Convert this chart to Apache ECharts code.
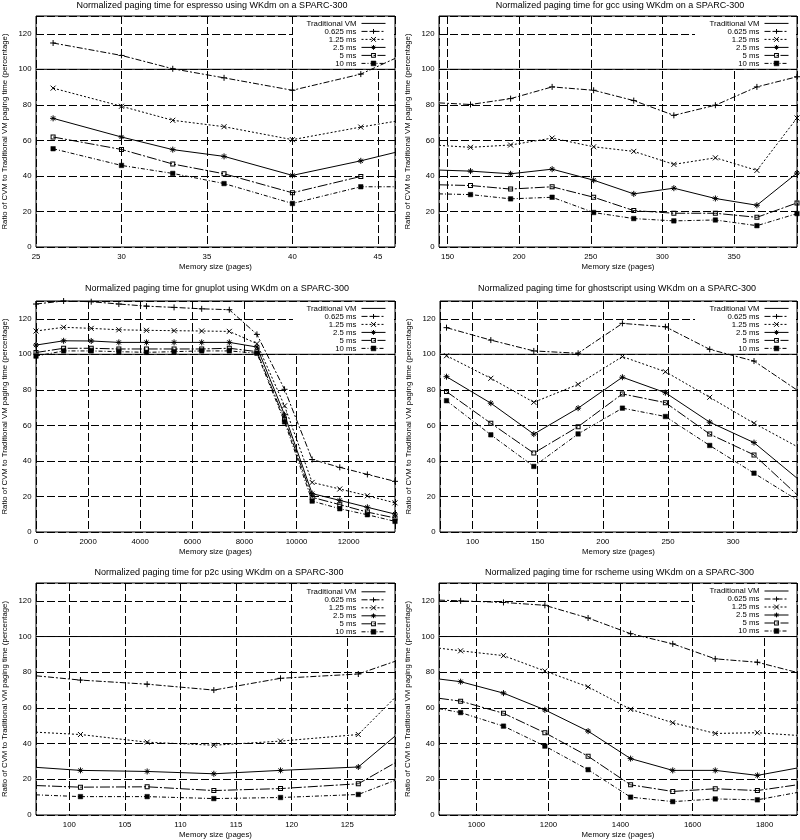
<!DOCTYPE html>
<html><head><meta charset="utf-8">
<script src="https://cdn.jsdelivr.net/npm/echarts@6/dist/echarts.min.js"></script>
<style>html,body{margin:0;padding:0;background:#fff}#c{width:800px;height:840px}</style>
</head><body><div id="c"></div>
<script>
// ---------------- DATA ----------------
const seriesNames = ['Traditional VM', '0.625 ms', '1.25 ms', '2.5 ms', '5 ms', '10 ms'];
const traditionalLevel = 100;
const yTicks = [0, 20, 40, 60, 80, 100, 120];

// espresso
const espressoX    = [26, 30, 33, 36, 40, 44, 46];
const espresso0625 = [114.8, 107.8, 100.3, 95.2, 88.2, 97.3, 106.1];
const espresso125  = [89.4, 79.2, 71.3, 67.7, 60.4, 67.5, 70.7];
const espresso25   = [72.4, 61.9, 54.8, 51.0, 40.3, 48.5, 53.2];
const espresso5    = [61.9, 54.9, 46.7, 41.2, 30.5, 39.7, null];
const espresso10   = [55.3, 45.9, 41.4, 35.7, 24.5, 33.9, 33.9];

// gcc
const gccX    = [144, 166, 194, 223, 252, 280, 308, 337, 366, 394];
const gcc0625 = [81.1, 80.2, 83.5, 90.1, 88.2, 82.4, 74.1, 79.8, 90.1, 95.8];
const gcc125  = [57.2, 56.1, 57.4, 61.3, 56.4, 53.8, 46.5, 50.2, 43.1, 72.6];
const gcc25   = [43.3, 42.7, 41.2, 43.8, 37.6, 29.9, 33.1, 27.3, 23.5, 41.6];
const gcc5    = [35.0, 34.6, 32.6, 33.9, 28.0, 20.5, 19.0, 19.0, 16.7, 24.8];
const gcc10   = [29.9, 29.5, 27.1, 28.0, 19.4, 16.0, 14.7, 15.2, 12.0, 18.8];

// gnuplot
const gnuplotX    = [0, 1060, 2120, 3180, 4240, 5300, 6360, 7420, 8480, 9540, 10600, 11660, 12720, 13780];
const gnuplot0625 = [128.3, 130.0, 129.6, 128.3, 127.1, 126.4, 125.6, 125.1, 111.2, 80.3, 40.8, 36.4, 32.4, 28.5];
const gnuplot125  = [113.1, 115.2, 114.6, 113.8, 113.5, 113.3, 113.1, 112.9, 106.0, 71.0, 27.9, 24.2, 20.4, 16.4];
const gnuplot25   = [105.2, 107.6, 107.5, 106.7, 106.7, 106.7, 106.7, 106.7, 104.1, 66.0, 21.6, 17.8, 13.9, 10.1];
const gnuplot5    = [101.0, 103.4, 103.4, 103.0, 103.0, 103.0, 103.0, 103.4, 101.5, 63.5, 19.5, 15.4, 11.2, 7.9];
const gnuplot10   = [99.0, 101.9, 101.9, 101.5, 101.1, 101.5, 101.9, 101.9, 100.6, 62.0, 17.4, 13.1, 9.7, 6.0];

// ghostscript
const ghostX    = [80, 114, 147, 181, 215, 248, 282, 316, 349];
const ghost0625 = [115.0, 108.0, 101.9, 100.6, 117.4, 115.5, 102.8, 96.2, 79.9];
const ghost125  = [99.2, 86.5, 73.0, 83.1, 98.7, 90.2, 75.8, 61.2, 48.1];
const ghost25   = [87.4, 72.5, 55.1, 69.7, 87.1, 78.4, 61.8, 50.3, 30.3];
const ghost5    = [79.0, 61.2, 44.4, 59.3, 77.7, 72.8, 55.1, 43.4, 21.0];
const ghost10   = [73.9, 54.7, 36.9, 55.2, 69.7, 65.0, 48.7, 33.1, 18.1];

// p2c
const p2cX    = [97, 101, 107, 113, 119, 126, 129.3];
const p2c0625 = [78.0, 75.6, 73.3, 70.0, 76.6, 79.0, 86.1];
const p2c125  = [46.4, 45.1, 40.8, 39.1, 41.4, 45.1, 65.8];
const p2c25   = [26.7, 25.0, 24.4, 23.1, 25.0, 26.9, 44.2];
const p2c5    = [16.5, 15.6, 15.8, 13.7, 14.8, 17.5, 29.2];
const p2c10   = [11.3, 10.3, 10.3, 9.2, 9.8, 11.5, 19.4];

// rscheme
const schemeX    = [896, 956, 1075, 1190, 1310, 1428, 1545, 1663, 1780, 1890];
const scheme0625 = [120.4, 120.0, 119.1, 117.5, 110.4, 101.6, 95.9, 87.5, 85.6, 79.9];
const scheme125  = [93.5, 92.0, 89.3, 80.7, 71.8, 59.2, 51.7, 45.7, 46.1, 44.6];
const scheme25   = [76.2, 74.7, 68.3, 58.9, 47.0, 31.6, 25.0, 25.0, 22.2, 26.3];
const scheme5    = [65.4, 63.8, 57.0, 46.1, 32.9, 16.9, 13.2, 14.7, 13.7, 16.9];
const scheme10   = [59.6, 57.4, 49.8, 38.6, 25.4, 10.0, 7.5, 9.0, 8.5, 12.6];

const panels = [
  {title: 'Normalized paging time for espresso using WKdm on a SPARC-300', xs: espressoX, ys: [espresso0625, espresso125, espresso25, espresso5, espresso10], xMin: 25, xMax: 46, split: 4, minLabel: true, clipL: false, clipR: true},
  {title: 'Normalized paging time for gcc using WKdm on a SPARC-300', xs: gccX, ys: [gcc0625, gcc125, gcc25, gcc5, gcc10], xMin: 144, xMax: 394, split: 5, minLabel: false, clipL: true, clipR: false},
  {title: 'Normalized paging time for gnuplot using WKdm on a SPARC-300', xs: gnuplotX, ys: [gnuplot0625, gnuplot125, gnuplot25, gnuplot5, gnuplot10], xMin: 0, xMax: 13780, split: 7, minLabel: true, clipL: false, clipR: false},
  {title: 'Normalized paging time for ghostscript using WKdm on a SPARC-300', xs: ghostX, ys: [ghost0625, ghost125, ghost25, ghost5, ghost10], xMin: 75, xMax: 349, split: 5, minLabel: false, clipL: false, clipR: true},
  {title: 'Normalized paging time for p2c using WKdm on a SPARC-300', xs: p2cX, ys: [p2c0625, p2c125, p2c25, p2c5, p2c10], xMin: 97, xMax: 129.3, split: 6, minLabel: false, clipL: true, clipR: true},
  {title: 'Normalized paging time for rscheme using WKdm on a SPARC-300', xs: schemeX, ys: [scheme0625, scheme125, scheme25, scheme5, scheme10], xMin: 896, xMax: 1890, split: 5, minLabel: false, clipL: true, clipR: true}
];

// ---------------- LAYOUT / STYLE ----------------
const FONT = '"Liberation Sans", Arial, Helvetica, sans-serif';
const boxes = [
  {left: 36, top: 16, width: 359, height: 231},
  {left: 439, top: 16, width: 358, height: 231},
  {left: 36, top: 301, width: 359, height: 231},
  {left: 440, top: 301, width: 357, height: 231},
  {left: 36, top: 583, width: 359, height: 232},
  {left: 439, top: 583, width: 358, height: 232}
];
const titlePos = [[212, 5.5], [620, 5.5], [217, 288.8], [617, 288.8], [219, 573], [619.5, 573]];
const legendPos = [[414, 19.4], [11, 19.4], [414, 304.4], [11, 304.4], [414, 587.8], [11, 587]];
const keyBlank = [[293, 394], [695, 796], [293, 394], [695, 796], [293, 394], [695, 796]];

const SYM = {
  plus: 'path://M5,0V10M0,5H10',
  cross: 'path://M0,0L10,10M10,0L0,10',
  star: 'path://M5,0V10M0,5H10M1.6,1.6L8.4,8.4M8.4,1.6L1.6,8.4',
  ring: 'path://M0,0H10V10H0ZM2,2V8H8V2Z'
};
const styles = [
  {symbol: 'circle', size: 0, dash: 'solid', bw: 1},
  {symbol: SYM.plus, size: 6, dash: [6, 2, 2, 2], bw: 1},
  {symbol: SYM.cross, size: 5, dash: [2, 2], bw: 1},
  {symbol: SYM.star, size: 6, dash: 'solid', bw: 1},
  {symbol: SYM.ring, size: 5, dash: [10, 2, 2, 2], bw: 0},
  {symbol: 'rect', size: 4.5, dash: [4, 2, 1, 2], bw: 0.5}
];

const grids = [], xAxes = [], yAxes = [], series = [], legends = [], graphics = [];
panels.forEach((p, k) => {
  const b = boxes[k];
  grids.push({left: b.left, top: b.top, width: b.width, height: b.height, show: true,
    borderColor: '#000', borderWidth: 1, backgroundColor: 'transparent', containLabel: false});
  xAxes.push({type: 'value', gridIndex: k, min: p.xMin, max: p.xMax, splitNumber: p.split,
    name: 'Memory size (pages)', nameLocation: 'middle', nameGap: 16,
    nameTextStyle: {fontFamily: FONT, fontSize: 7.8, color: '#000'},
    axisLine: {show: false}, axisTick: {show: false},
    axisLabel: {fontFamily: FONT, fontSize: 7.8, color: '#000', margin: 5.5,
      formatter: v => String(v),
      showMinLabel: p.minLabel, showMaxLabel: false, hideOverlap: false},
    splitLine: {show: true, lineStyle: {color: '#000', width: 1, type: [8, 3]}}});
  yAxes.push({type: 'value', gridIndex: k, min: yTicks[0], max: 130, interval: yTicks[1] - yTicks[0],
    name: 'Ratio of CVM to Traditional VM paging time (percentage)', nameLocation: 'middle', nameGap: 27,
    nameRotate: 90, nameTextStyle: {fontFamily: FONT, fontSize: 7.8, color: '#000'},
    axisLine: {show: false}, axisTick: {show: false},
    axisLabel: {fontFamily: FONT, fontSize: 7.8, color: '#000', margin: 4.5, showMaxLabel: false},
    splitLine: {show: true, lineStyle: {color: '#000', width: 1, type: [8, 3]}}});

  // Traditional VM baseline
  series.push({name: seriesNames[0], type: 'line', xAxisIndex: k, yAxisIndex: k,
    data: [[p.xMin, traditionalLevel], [p.xMax, traditionalLevel]], symbol: 'circle', showSymbol: false,
    lineStyle: {color: '#000', width: 1, type: 'solid'}, itemStyle: {color: '#000', opacity: 0}, silent: true});
  p.ys.forEach((ys, j) => {
    const st = styles[j + 1];
    const data = p.xs.map((x, i) => {
      const item = {value: [x, ys[i] == null ? '-' : ys[i]]};
      if ((p.clipL && i === 0) || (p.clipR && i === p.xs.length - 1)) item.symbol = 'none';
      return item;
    });
    series.push({name: seriesNames[j + 1], type: 'line', xAxisIndex: k, yAxisIndex: k, data,
      symbol: st.symbol, symbolSize: st.size, showAllSymbol: true, connectNulls: false,
      lineStyle: {color: '#000', width: 1, type: st.dash},
      itemStyle: {color: '#000', borderColor: '#000', borderWidth: st.bw}, silent: true});
  });

  legends.push({orient: 'vertical', align: 'right', right: legendPos[k][0], top: legendPos[k][1],
    padding: 0, itemGap: 0, itemWidth: 24, itemHeight: 6, selectedMode: false,
    data: seriesNames.map((n, i) => i === 0 ? {name: n, itemStyle: {opacity: 0}} : {name: n}),
    lineStyle: {width: 1}, itemStyle: {borderWidth: 'inherit'},
    textStyle: {fontFamily: FONT, fontSize: 7.8, lineHeight: 7.8, color: '#000'}});

  graphics.push({type: 'rect', z: 1, silent: true,
    shape: {x: keyBlank[k][0], y: b.top + 1, width: keyBlank[k][1] - keyBlank[k][0], height: 51},
    style: {fill: '#fff'}});
  graphics.push({type: 'text', x: titlePos[k][0], y: titlePos[k][1], z: 5, silent: true,
    style: {text: p.title, fontFamily: FONT, fontSize: 9, fill: '#000', align: 'center', verticalAlign: 'middle'}});
});

const chart = echarts.init(document.getElementById('c'), null, {renderer: 'canvas'});
chart.setOption({
  animation: false,
  backgroundColor: '#fff',
  grid: grids, xAxis: xAxes, yAxis: yAxes, series, legend: legends, graphic: graphics
});
</script>
</body></html>
